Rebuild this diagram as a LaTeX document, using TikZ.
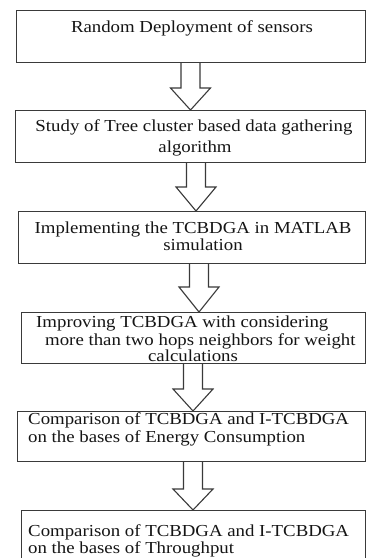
\documentclass[tikz,border=0pt]{standalone}
\usepackage{fontspec}
\setmainfont{Liberation Serif}[FakeStretch=1.12]
\usetikzlibrary{calc}
\definecolor{linegray}{HTML}{3A3A3A}
\definecolor{txtcol}{HTML}{151515}
\newcommand{\blockarrow}[4]{% #1 upper node, #2 lower node, #3 centre x, #4 head length
  \draw[arr] let \p1=(#1.south), \p2=(#2.north) in
    ({#3pt-9.5pt},\y1) -- ({#3pt-9.5pt},{\y2+#4pt}) -- ({#3pt-20pt},{\y2+#4pt})
    -- (#3pt,\y2) -- ({#3pt+20pt},{\y2+#4pt}) -- ({#3pt+9.5pt},{\y2+#4pt})
    -- ({#3pt+9.5pt},\y1);
}
\begin{document}
\begin{tikzpicture}[x=1pt,y=-1pt,
  boxstyle/.style={draw=linegray, line width=1.1pt, inner sep=0pt, anchor=north west},
  txt/.style={inner sep=0pt, text=txtcol, font=\fontsize{16.8}{20}\selectfont},
  arr/.style={draw=linegray, line width=1.1pt, fill=white, line join=miter}]
\fill[white] (0,0) rectangle (366,558);
\useasboundingbox (0,0) rectangle (366,558);
\clip (0,0) rectangle (366,558);
% boxes
\node[boxstyle, minimum width=349pt, minimum height=52pt] (b1) at (16,10) {};
\node[boxstyle, minimum width=350pt, minimum height=52pt] (b2) at (15,110) {};
\node[boxstyle, minimum width=347pt, minimum height=52pt] (b3) at (18,211) {};
\node[boxstyle, minimum width=344pt, minimum height=51pt] (b4) at (21,312) {};
\node[boxstyle, minimum width=348pt, minimum height=50pt] (b5) at (17,411) {};
\node[boxstyle, minimum width=344pt, minimum height=60pt] (b6) at (21,510) {};
% texts
\node[txt, anchor=base] (t1) at (192,32) {Random Deployment of sensors};
\node[txt, anchor=base] (t2a) at (194,131) {Study of Tree cluster based data gathering};
\node[txt, anchor=base] (t2b) at (195,152) {algorithm};
\node[txt, anchor=base] (t3a) at (193,233) {Implementing the TCBDGA in MATLAB};
\node[txt, anchor=base] (t3b) at (203,250) {simulation};
\node[txt, anchor=base west] (t4a) at (36,327) {Improving TCBDGA with considering};
\node[txt, anchor=base west] (t4b) at (45,345) {more than two hops neighbors for weight};
\node[txt, anchor=base] (t4c) at (193,361) {calculations};
\node[txt, anchor=base west] (t5a) at (28,424) {Comparison of TCBDGA and I-TCBDGA};
\node[txt, anchor=base west] (t5b) at (28,442) {on the bases of Energy Consumption};
\node[txt, anchor=base west] (t6a) at (28,536) {Comparison of TCBDGA and I-TCBDGA};
\node[txt, anchor=base west] (t6b) at (28,553) {on the bases of Throughput};
% block arrows
\blockarrow{b1}{b2}{190.5}{22}
\blockarrow{b2}{b3}{196}{24}
\blockarrow{b3}{b4}{199}{25}
\blockarrow{b4}{b5}{193}{22}
\blockarrow{b5}{b6}{193}{21}
\end{tikzpicture}
\end{document}
